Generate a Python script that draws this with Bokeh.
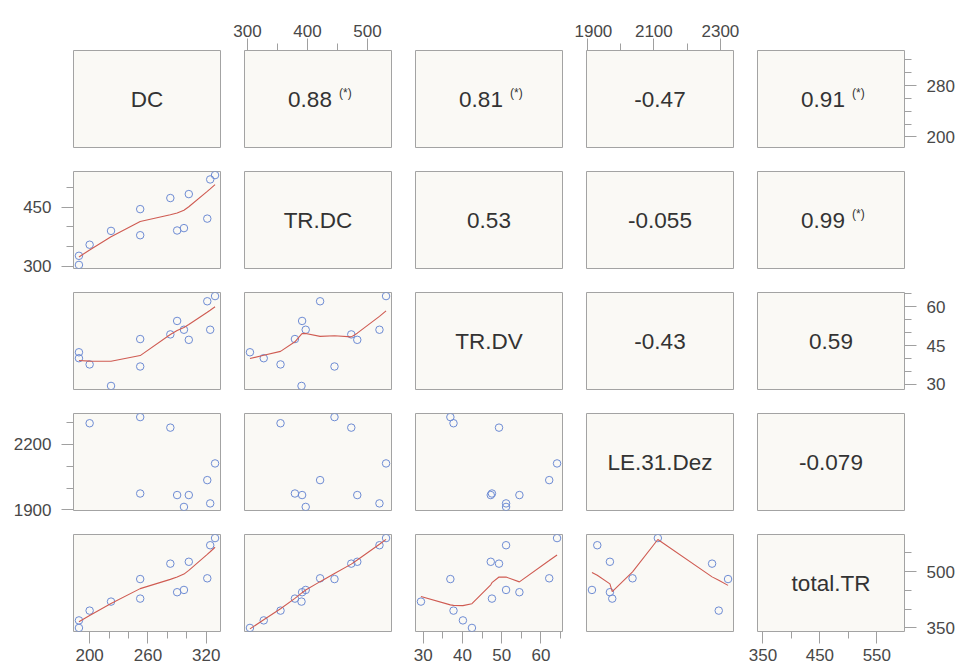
import numpy as np
from bokeh.plotting import figure
from bokeh.layouts import gridplot
from bokeh.models import Range1d, LinearAxis, FixedTicker
from bokeh.core.properties import value
from bokeh.embed import file_html
from bokeh.resources import INLINE

# ---------------- data ----------------
var_names = ["DC", "TR.DC", "TR.DV", "LE.31.Dez", "total.TR"]
DC = [189, 189, 200, 222, 252, 252, 283, 290, 297, 302, 321, 324, 329]
TR_DC = [304, 327, 355, 390, 379, 445, 473, 391, 397, 483, 421, 520, 531]
TR_DV = [42.4, 40.1, 37.7, 29.4, 47.5, 36.9, 49.3, 54.5, 51.1, 47.2, 62.1, 51.1, 64.1]
LE_31_Dez = [np.nan, np.nan, 2295, np.nan, 1975, 2323, 2275, 1968, 1914, 1968, 2036, 1930, 2112]
total_TR = [350, 370, 396, 420, 428, 480, 521, 445, 451, 526, 482, 570, 589]

# upper-panel texts (row-major over the upper triangle)
corr_text = ["0.88", "0.81", "-0.47", "0.91", "0.53", "-0.055", "0.99", "-0.43", "0.59", "-0.079"]
corr_sig = [True, True, False, True, False, False, True, False, False, False]

# axis ticks: labelled (major) and unlabelled (minor)
x_major = [[200, 260, 320], [300, 400, 500], [30, 40, 50, 60], [1900, 2100, 2300], [350, 450, 550]]
x_minor = [[220, 240, 280, 300], [350, 450], [35, 45, 55, 65], [2000, 2200], [400, 500, 600]]
y_major = [[200, 280], [300, 450], [30, 45, 60], [1900, 2200], [350, 500]]
y_minor = [[220, 240, 260, 300, 320], [350, 400, 500], [35, 40, 50, 55, 65], [2000, 2100, 2300], [400, 450, 550, 600]]

columns = [DC, TR_DC, TR_DV, LE_31_Dez, total_TR]

# ---------------- style ----------------
FONT = "Liberation Sans"
PANEL_BG = "#FAF9F5"
BORDER = "#A3A3A3"
TICK = "#A0A0A0"
PT = "#6E8CD4"
LINE = "#CF5B52"
TXT = "#333333"
FW, FH = 147, 97
N = len(var_names)


def _lowest(x, y, xs, nleft, nright, userw, rw):
    n = len(x)
    rng = x[-1] - x[0]
    h = max(xs - x[nleft], x[nright] - xs)
    h9, h1 = 0.999 * h, 0.001 * h
    w = np.zeros(n)
    a = 0.0
    j = nleft
    while j < n:
        r = abs(x[j] - xs)
        if r <= h9:
            w[j] = 1.0 if r <= h1 else (1 - (r / h) ** 3) ** 3
            if userw:
                w[j] *= rw[j]
            a += w[j]
        elif x[j] > xs:
            break
        j += 1
    nrt = j - 1
    if a <= 0:
        return 0.0, False
    sl = slice(nleft, nrt + 1)
    w[sl] /= a
    if h > 0:
        a = np.sum(w[sl] * x[sl])
        b = xs - a
        c = np.sum(w[sl] * (x[sl] - a) ** 2)
        if np.sqrt(c) > 0.001 * rng:
            b /= c
            w[sl] *= (b * (x[sl] - a) + 1)
    return float(np.sum(w[sl] * y[sl])), True


def lowess(xv, yv, f=2 / 3, nsteps=3):
    xv = np.asarray(xv, float)
    yv = np.asarray(yv, float)
    ok = np.isfinite(xv) & np.isfinite(yv)
    xv, yv = xv[ok], yv[ok]
    order = np.argsort(xv, kind="stable")
    x, y = xv[order], yv[order]
    n = len(x)
    delta = 0.01 * (x[-1] - x[0])
    ns = max(2, min(n, int(f * n + 1e-7)))
    ys = np.zeros(n)
    rw = np.ones(n)
    it = 1
    while it <= nsteps + 1:
        nleft, nright, last, i = 0, ns - 1, -1, 0
        while True:
            if nright < n - 1:
                if x[i] - x[nleft] > x[nright + 1] - x[i]:
                    nleft += 1
                    nright += 1
                    continue
            v, good = _lowest(x, y, x[i], nleft, nright, it > 1, rw)
            ys[i] = v if good else y[i]
            if last < i - 1:
                denom = x[i] - x[last]
                for j in range(last + 1, i):
                    al = (x[j] - x[last]) / denom
                    ys[j] = al * ys[i] + (1 - al) * ys[last]
            last = i
            cut = x[last] + delta
            i = last + 1
            while i < n:
                if x[i] > cut:
                    break
                if x[i] == x[last]:
                    ys[i] = ys[last]
                    last = i
                i += 1
            i = max(last + 1, i - 1)
            if last >= n - 1:
                break
        res = y - ys
        sc = np.sum(np.abs(res)) / n
        if it > nsteps:
            break
        ar = np.sort(np.abs(res))
        m1 = n // 2
        if n % 2 == 0:
            cmad = 3 * (ar[m1] + ar[n - m1 - 1])
        else:
            cmad = 6 * ar[m1]
        if cmad < 1e-7 * sc:
            break
        c9, c1 = 0.999 * cmad, 0.001 * cmad
        r = np.abs(res)
        rw = np.where(r <= c1, 1.0, np.where(r <= c9, (1 - (r / cmad) ** 2) ** 2, 0.0))
        it += 1
    return x, ys


def padded(v):
    a = np.asarray(v, float)
    lo, hi = np.nanmin(a), np.nanmax(a)
    d = 0.04 * (hi - lo)
    return lo - d, hi + d


ranges = [padded(c) for c in columns]


def make_axis(major, minor, standoff):
    return LinearAxis(
        ticker=FixedTicker(ticks=major, minor_ticks=minor),
        axis_line_color=None,
        major_tick_out=12, major_tick_in=0,
        minor_tick_out=7, minor_tick_in=0,
        major_tick_line_color=TICK, minor_tick_line_color=TICK,
        major_label_standoff=standoff,
        major_label_text_font=FONT,
        major_label_text_font_size="17px",
        major_label_text_color="#484848",
    )


rows = []
k = 0
corr_idx = {}
for i in range(N):
    for j in range(i + 1, N):
        corr_idx[(i, j)] = k
        k += 1

for i in range(N):
    row = []
    for j in range(N):
        p = figure(
            frame_width=FW, frame_height=FH,
            x_range=Range1d(*ranges[j]), y_range=Range1d(*ranges[i]),
            x_axis_location=None, y_axis_location=None,
            toolbar_location=None, output_backend="svg",
            min_border_left=73 if j == 0 else 12,
            min_border_right=52 if j == N - 1 else 12,
            min_border_top=50 if i == 0 else 12,
            min_border_bottom=37 if i == N - 1 else 12,
            background_fill_color=PANEL_BG, border_fill_color="white",
            outline_line_color=BORDER, outline_line_width=1,
        )
        p.grid.visible = False
        # outer axes, alternating like pairs()
        if i == 0 and j % 2 == 1:
            p.add_layout(make_axis(x_major[j], x_minor[j], 2), "above")
        if i == N - 1 and j % 2 == 0:
            p.add_layout(make_axis(x_major[j], x_minor[j], 5), "below")
        if j == 0 and i % 2 == 1:
            p.add_layout(make_axis(y_major[i], y_minor[i], 10), "left")
        if j == N - 1 and i % 2 == 0:
            p.add_layout(make_axis(y_major[i], y_minor[i], 10), "right")

        cx = [(ranges[j][0] + ranges[j][1]) / 2]
        cy = [(ranges[i][0] + ranges[i][1]) / 2]
        if i == j:
            p.text(x=cx, y=cy, text=[var_names[i]], text_align="center", text_baseline="middle",
                   text_font=value(FONT), text_font_size="22.5px", text_color=TXT)
        elif i < j:
            kk = corr_idx[(i, j)]
            sig = corr_sig[kk]
            p.text(x=cx, y=cy, text=[corr_text[kk]], text_align="center", text_baseline="middle",
                   text_font=value(FONT), text_font_size="22.5px", text_color=TXT,
                   x_offset=-8 if sig else 0)
            if sig:
                p.text(x=cx, y=cy, text=["(*)"], text_align="left", text_baseline="middle",
                       text_font=value(FONT), text_font_size="12px", text_color=TXT,
                       x_offset=21, y_offset=-6)
        else:
            xs_, ys_ = columns[j], columns[i]
            p.scatter(x=xs_, y=ys_, marker="circle", size=7.5, fill_color=None,
                      line_color=PT, line_width=1)
            if i != 3:
                lx, ly = lowess(xs_, ys_)
                p.line(x=lx, y=ly, line_color=LINE, line_width=1.1)
        row.append(p)
    rows.append(row)

grid = gridplot(rows, toolbar_location=None)
open("out.html", "w").write(file_html(grid, INLINE))
